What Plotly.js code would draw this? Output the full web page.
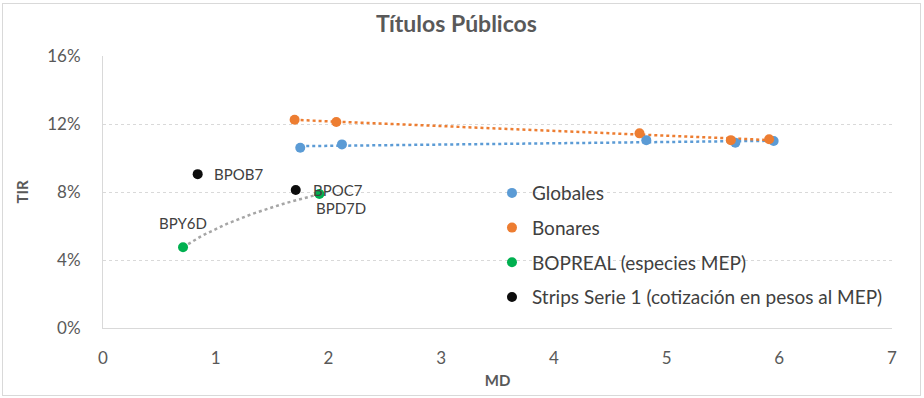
<!DOCTYPE html>
<html><head><meta charset="utf-8">
<script src="https://cdn.plot.ly/plotly-3.0.1.min.js"></script>
<style>
html,body{margin:0;padding:0;background:#ebebeb;}
#wrap{position:absolute;left:0;top:0;width:924px;height:398px;}
#frame{position:absolute;left:2px;top:3px;width:919px;height:393px;border:1px solid #d9d9d9;box-sizing:border-box;pointer-events:none;}
</style></head>
<body>
<div id="wrap"></div>
<div id="frame"></div>
<script>
// Data (MD, TIR in %)
const globalesMD = [1.75, 2.12, 4.82, 5.61, 5.95];
const globalesTIR = [10.6, 10.8, 11.05, 10.9, 11.0];
const bonaresMD = [1.70, 2.07, 4.76, 5.57, 5.91];
const bonaresTIR = [12.25, 12.12, 11.45, 11.05, 11.1];
const boprealMD = [0.71, 1.92];
const boprealTIR = [4.75, 7.88];
const boprealLabels = ["BPY6D", "BPD7D"];
const stripsMD = [0.84, 1.71];
const stripsTIR = [9.05, 8.12];
const stripsLabels = ["BPOB7", "BPOC7"];

function linFit(xs, ys){
  const n = xs.length;
  const mx = xs.reduce((a,b)=>a+b,0)/n, my = ys.reduce((a,b)=>a+b,0)/n;
  let sxy=0,sxx=0;
  for(let i=0;i<n;i++){sxy+=(xs[i]-mx)*(ys[i]-my);sxx+=(xs[i]-mx)**2;}
  const b=sxy/sxx, a=my-b*mx;
  const x0=Math.min(...xs), x1=Math.max(...xs);
  return {x:[x0,x1], y:[a+b*x0, a+b*x1]};
}
function logFit(xs, ys){
  const lx = xs.map(Math.log);
  const n=xs.length;
  const mx = lx.reduce((a,b)=>a+b,0)/n, my = ys.reduce((a,b)=>a+b,0)/n;
  let sxy=0,sxx=0;
  for(let i=0;i<n;i++){sxy+=(lx[i]-mx)*(ys[i]-my);sxx+=(lx[i]-mx)**2;}
  const b=sxy/sxx, a=my-b*mx;
  const x0=Math.min(...xs), x1=Math.max(...xs);
  const X=[],Y=[];
  for(let i=0;i<=40;i++){const x=x0+(x1-x0)*i/40;X.push(x);Y.push(a+b*Math.log(x));}
  return {x:X,y:Y};
}
const pct = a => a.map(v=>v/100);

const gFit = linFit(globalesMD, globalesTIR);
const bFit = linFit(bonaresMD, bonaresTIR);
const pFit = logFit(boprealMD, boprealTIR);

const blue='#5b9bd5', orange='#ed7d31', green='#00b050', black='#0d0d0d';
const txt='#595959';
const font = "Lato, 'Open Sans', sans-serif";

const traces = [
  {x:gFit.x, y:pct(gFit.y), mode:'lines', line:{color:blue, width:2.5, dash:'dot'}, showlegend:false, hoverinfo:'skip'},
  {x:bFit.x, y:pct(bFit.y), mode:'lines', line:{color:orange, width:2.5, dash:'dot'}, showlegend:false, hoverinfo:'skip'},
  {x:pFit.x, y:pct(pFit.y), mode:'lines', line:{color:'#a6a6a6', width:2.5, dash:'dot'}, showlegend:false, hoverinfo:'skip'},
  {x:globalesMD, y:pct(globalesTIR), mode:'markers', name:'Globales', legendgroup:'g1', marker:{color:blue, size:10}},
  {x:bonaresMD, y:pct(bonaresTIR), mode:'markers', name:'Bonares', legendgroup:'g2', marker:{color:orange, size:10}},
  {x:boprealMD, y:pct(boprealTIR), mode:'markers', name:'BOPREAL (especies MEP)', legendgroup:'g3', marker:{color:green, size:10}},
  {x:stripsMD, y:pct(stripsTIR), mode:'markers', name:'Strips Serie 1 (cotización en pesos al MEP)', legendgroup:'g4', marker:{color:black, size:10}}
];

const annFont = {family:font, size:15, color:'#404040'};
const annotations = [
  {x:boprealMD[0], y:boprealTIR[0]/100, text:boprealLabels[0], showarrow:false, xanchor:'center', yanchor:'middle', xshift:0, yshift:24, font:annFont},
  {x:boprealMD[1], y:boprealTIR[1]/100, text:boprealLabels[1], showarrow:false, xanchor:'left', yanchor:'middle', xshift:-5, yshift:-14, font:annFont},
  {x:stripsMD[0], y:stripsTIR[0]/100, text:stripsLabels[0], showarrow:false, xanchor:'left', yanchor:'middle', xshift:14, yshift:0, font:annFont},
  {x:stripsMD[1], y:stripsTIR[1]/100, text:stripsLabels[1], showarrow:false, xanchor:'left', yanchor:'middle', xshift:15, yshift:0, font:annFont}
];

const layout = {
  width:924, height:398,
  margin:{l:103, r:32, t:56, b:70},
  paper_bgcolor:'#ffffff', plot_bgcolor:'#ffffff',
  font:{family:font, color:txt, size:15},
  title:{text:'<b>Títulos Públicos</b>', x:0.494, xanchor:'center', y:0.94, yanchor:'middle', font:{family:font, size:23, color:txt}},
  xaxis:{range:[0,7], dtick:1, showgrid:false, zeroline:false, showline:true, linecolor:'#d9d9d9', linewidth:1, ticks:'', ticklabelstandoff:15,
    tickfont:{family:font, size:17, color:txt},
    title:{text:'<b>MD</b>', font:{family:font, size:15, color:txt}, standoff:8}},
  yaxis:{range:[0,0.16], dtick:0.04, tickformat:'.0%', showgrid:true, gridcolor:'#d9d9d9', griddash:'dot', gridwidth:1, zeroline:false,
    showline:true, linecolor:'#d9d9d9', linewidth:1, ticks:'', ticklabelstandoff:18,
    tickfont:{family:font, size:17, color:txt},
    title:{text:'<b>TIR</b>', font:{family:font, size:15, color:txt}, standoff:14}},
  legend:{x:0.493, y:0.566, xanchor:'left', yanchor:'top', bgcolor:'rgba(0,0,0,0)', font:{family:font, size:19, color:'#404040'}, tracegroupgap:7, itemwidth:30},
  annotations:annotations,
  showlegend:true
};
Plotly.newPlot('wrap', traces, layout, {displayModeBar:false, staticPlot:true});
</script>
</body></html>
